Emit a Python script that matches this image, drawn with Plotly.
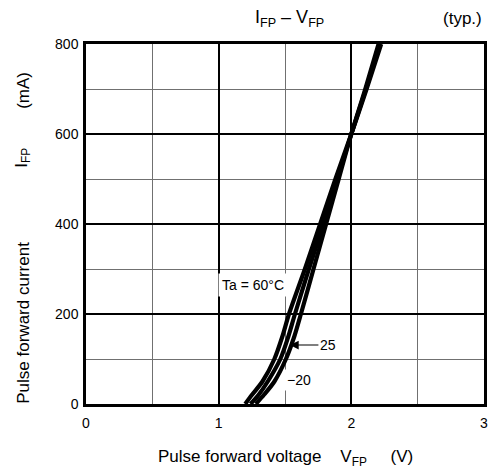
import plotly.graph_objects as go

# Data
current_mA = [0, 20, 50, 100, 150, 200, 300, 400, 500, 600, 700, 800]
v_60 = [1.20, 1.25, 1.33, 1.42, 1.48, 1.53, 1.65, 1.765, 1.88, 2.00, 2.115, 2.225]
v_25 = [1.24, 1.30, 1.37, 1.465, 1.525, 1.575, 1.68, 1.79, 1.895, 2.00, 2.11, 2.215]
v_m20 = [1.28, 1.34, 1.42, 1.507, 1.57, 1.62, 1.715, 1.81, 1.905, 2.00, 2.105, 2.205]
series = [("60", v_60), ("25", v_25), ("-20", v_m20)]

x_ticks = [0, 1, 2, 3]
y_ticks = [0, 200, 400, 600, 800]

FONT = "Liberation Sans, Arial, Helvetica, sans-serif"
NB = "\u00a0"

fig = go.Figure()
for name, v in series:
    fig.add_trace(go.Scatter(
        x=v, y=current_mA, mode="lines", name=name,
        line=dict(color="black", width=4.2, shape="spline", smoothing=0.8),
        showlegend=False, hoverinfo="skip"))

# page body has an 8px margin, so the figure is sized/offset to compensate
fig.update_layout(
    width=489, height=465,
    margin=dict(l=78, r=9, t=36, b=69),
    paper_bgcolor="white", plot_bgcolor="white",
    font=dict(family=FONT, color="black", size=14),
    showlegend=False,
)

fig.update_xaxes(
    range=[0, 3], tickvals=x_ticks, ticktext=[str(t) for t in x_ticks],
    showline=True, mirror=True, linecolor="black", linewidth=2.5,
    showgrid=True, gridcolor="black", gridwidth=1.6,
    minor=dict(dtick=0.5, showgrid=True, gridcolor="#707070", gridwidth=1.2),
    ticks="", zeroline=False, tickfont=dict(size=14), ticklabelstandoff=4,
    fixedrange=True,
)
fig.update_yaxes(
    range=[0, 800], tickvals=y_ticks, ticktext=[str(t) for t in y_ticks],
    showline=True, mirror=True, linecolor="black", linewidth=2.5,
    showgrid=True, gridcolor="black", gridwidth=1.6,
    minor=dict(dtick=100, showgrid=True, gridcolor="#707070", gridwidth=1.2),
    ticks="", zeroline=False, tickfont=dict(size=14), ticklabelstandoff=2,
    fixedrange=True,
)

ytitle_x = -0.159
annotations = [
    # title
    dict(text="I<sub>FP</sub> – V<sub>FP</sub>", x=0.512, y=1.072, xref="paper", yref="paper",
         showarrow=False, xanchor="center", yanchor="middle", font=dict(size=18)),
    dict(text="(typ.)", x=1.0, y=1.072, xref="paper", yref="paper",
         showarrow=False, xanchor="right", yanchor="middle", font=dict(size=17)),
    # x axis title
    dict(text=f"Pulse forward voltage{NB*4}V<sub>FP</sub>{NB*5}(V)", x=0.5, y=-0.15,
         xref="paper", yref="paper", showarrow=False, xanchor="center", yanchor="middle",
         font=dict(size=17)),
    # y axis title (three parts, spread as in the reference)
    dict(text="Pulse forward current", x=ytitle_x, y=0.225,
         xref="paper", yref="paper", showarrow=False, xanchor="center", yanchor="middle",
         textangle=-90, font=dict(size=17)),
    dict(text="I<sub>FP</sub>", x=ytitle_x, y=0.683,
         xref="paper", yref="paper", showarrow=False, xanchor="center", yanchor="middle",
         textangle=-90, font=dict(size=17)),
    dict(text="(mA)", x=ytitle_x, y=0.872,
         xref="paper", yref="paper", showarrow=False, xanchor="center", yanchor="middle",
         textangle=-90, font=dict(size=17)),
    # curve labels
    dict(text="Ta = 60°C", x=1.261, y=264, xref="x", yref="y", showarrow=False,
         bgcolor="white", borderpad=3, font=dict(size=14)),
    dict(text="25", x=1.537, y=131, xref="x", yref="y", showarrow=True,
         ax=38, ay=0, arrowhead=2, arrowsize=1.6, arrowwidth=1.1, arrowcolor="black",
         font=dict(size=14)),
    dict(text="−20", x=1.604, y=53, xref="x", yref="y", showarrow=False,
         bgcolor="white", borderpad=2, font=dict(size=14)),
]
fig.update_layout(annotations=annotations)

fig.write_html("out.html")
